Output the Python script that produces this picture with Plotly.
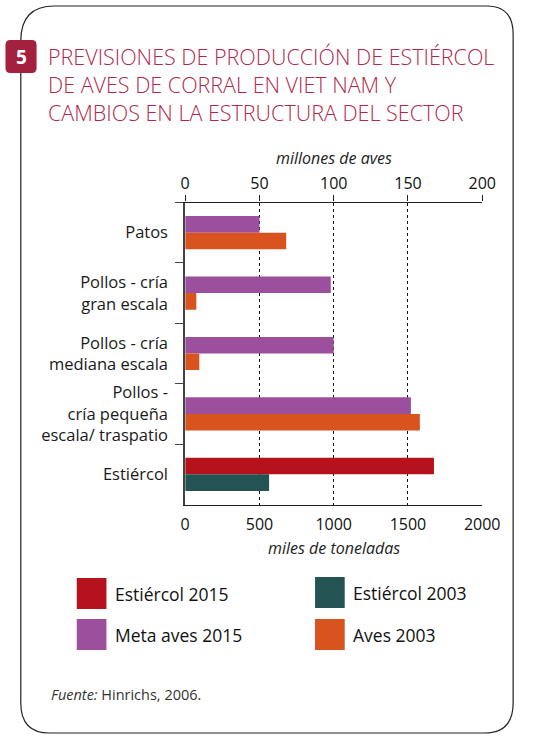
import plotly.graph_objects as go

W, H = 534, 736

categories = [
    "Patos",
    "Pollos - cría<br>gran escala",
    "Pollos - cría<br>mediana escala",
    "Pollos -<br>cría pequeña<br>escala/ traspatio",
    "Estiércol",
]
aves_categories = categories[:4]
meta_aves_2015 = [50, 98, 100, 152]      # millones de aves
aves_2003 = [68, 7.5, 9.5, 158]          # millones de aves
estiercol_categories = categories[4:]
estiercol_2015 = [1675]                  # miles de toneladas
estiercol_2003 = [565]                   # miles de toneladas

top_ticks = [0, 50, 100, 150, 200]
bottom_ticks = [0, 500, 1000, 1500, 2000]

C_RED = "#b5121b"
C_GREEN = "#235453"
C_PURPLE = "#9b4f9c"
C_ORANGE = "#d9531f"
C_TITLE = "#b0284b"
C_BADGE = "#a3203f"
FONT = "Open Sans"


def px(x, y):
    return x / W, 1 - y / H


fig = go.Figure()
fig.add_trace(go.Bar(y=aves_categories, x=meta_aves_2015, orientation="h",
                     marker=dict(color=C_PURPLE, line=dict(width=0)),
                     xaxis="x2", yaxis="y", showlegend=False, name="Meta aves 2015"))
fig.add_trace(go.Bar(y=aves_categories, x=aves_2003, orientation="h",
                     marker=dict(color=C_ORANGE, line=dict(width=0)),
                     xaxis="x2", yaxis="y", showlegend=False, name="Aves 2003"))
fig.add_trace(go.Bar(y=estiercol_categories, x=estiercol_2015, orientation="h",
                     marker=dict(color=C_RED, line=dict(width=0)),
                     xaxis="x", yaxis="y", showlegend=False, name="Estiércol 2015"))
fig.add_trace(go.Bar(y=estiercol_categories, x=estiercol_2003, orientation="h",
                     marker=dict(color=C_GREEN, line=dict(width=0)),
                     xaxis="x", yaxis="y", showlegend=False, name="Estiércol 2003"))

x0, x1 = 188.3, 498.7
yt, yb = 202.5, 504.5

fig.update_layout(
    width=W, height=H, autosize=False,
    margin=dict(l=0, r=0, t=0, b=0),
    paper_bgcolor="white", plot_bgcolor="white",
    font=dict(family=FONT, size=16, color="#1a1a1a"),
    barmode="group", bargap=0.45, bargroupgap=0,
    xaxis=dict(domain=[x0 / W, x1 / W], range=[0, 2000], tickvals=bottom_ticks,
               showline=True, linecolor="#222", linewidth=1.3,
               showgrid=True, gridcolor="#111", gridwidth=1, griddash="3px,3px",
               zeroline=False, ticks="", tickfont=dict(size=16, color="#111"),
               ticklabelstandoff=5, anchor="y", side="bottom", fixedrange=True),
    xaxis2=dict(range=[0, 200], tickvals=top_ticks, overlaying="x", side="top",
                anchor="y", showline=True, linecolor="#222", linewidth=1.3,
                showgrid=False, zeroline=False, ticks="outside", ticklen=6,
                tickcolor="#222", tickwidth=1, tickfont=dict(size=16, color="#111")),
    yaxis=dict(domain=[1 - yb / H, 1 - yt / H], categoryorder="array",
               categoryarray=categories, autorange="reversed",
               showline=True, linecolor="#444", linewidth=1.8,
               ticks="outside", tickson="boundaries", ticklen=8, tickcolor="#444",
               tickwidth=1.3, showgrid=False, zeroline=False,
               tickfont=dict(size=16.5, color="#1a1a1a"), ticklabelstandoff=12),
)

shapes = []
annotations = []

# frame with rounded corners (quadratic curves)
L, R, T, B = 16.5, 531, 6, 733
rtl, rtr, rbl, rbr = 35, 28, 30, 30
pts = [
    ("M", (L + rtl, T)), ("L", (R - rtr, T)), ("Q", (R, T), (R, T + rtr)),
    ("L", (R, B - rbr)), ("Q", (R, B), (R - rbr, B)), ("L", (L + rbl, B)),
    ("Q", (L, B), (L, B - rbl)), ("L", (L, T + rtl)), ("Q", (L, T), (L + rtl, T)),
]
path = ""
for item in pts:
    coords = " ".join("%.5f,%.5f" % px(*p) for p in item[1:])
    path += item[0] + " " + coords + " "
shapes.append(dict(type="path", path=path + "Z", xref="paper", yref="paper",
                   line=dict(color="#222", width=1.2), fillcolor="rgba(0,0,0,0)",
                   layer="below"))

# badge
bx0, by0, bx1, by1, br = 0.5, 40, 33, 73, 5
bpts = [
    ("M", (bx0 + br, by0)), ("L", (bx1 - br, by0)), ("Q", (bx1, by0), (bx1, by0 + br)),
    ("L", (bx1, by1 - br)), ("Q", (bx1, by1), (bx1 - br, by1)), ("L", (bx0 + br, by1)),
    ("Q", (bx0, by1), (bx0, by1 - br)), ("L", (bx0, by0 + br)), ("Q", (bx0, by0), (bx0 + br, by0)),
]
bpath = ""
for item in bpts:
    coords = " ".join("%.5f,%.5f" % px(*p) for p in item[1:])
    bpath += item[0] + " " + coords + " "
shapes.append(dict(type="path", path=bpath + "Z", xref="paper", yref="paper",
                   line=dict(width=0), fillcolor=C_BADGE, layer="above"))

# legend squares
legend_items = [
    ("Estiércol 2015", C_RED, 75, 578),
    ("Meta aves 2015", C_PURPLE, 75, 619),
    ("Estiércol 2003", C_GREEN, 324, 577),
    ("Aves 2003", C_ORANGE, 324, 619),
]
for label, color, lx, ly in legend_items:
    ax0, ay0 = px(lx, ly)
    ax1, ay1 = px(lx + 31, ly + 31)
    shapes.append(dict(type="rect", xref="paper", yref="paper", x0=ax0, x1=ax1,
                       y0=ay1, y1=ay0, line=dict(width=0), fillcolor=color))
    tx, ty = px(lx + 38, ly + 16)
    annotations.append(dict(text=label, x=tx, y=ty, xref="paper", yref="paper",
                            xanchor="left", yanchor="middle", showarrow=False,
                            font=dict(family=FONT, size=17.5, color="#111")))

# badge number
bxc, byc = px(16.8, 57)
annotations.append(dict(text="<b>5</b>", x=bxc, y=byc, xref="paper", yref="paper",
                        xanchor="center", yanchor="middle", showarrow=False,
                        font=dict(family=FONT, size=19, color="white")))

# title
tx, ty = px(43, 40)
annotations.append(dict(
    text="PREVISIONES DE PRODUCCIÓN DE ESTIÉRCOL<br>DE AVES DE CORRAL EN VIET NAM Y<br>CAMBIOS EN LA ESTRUCTURA DEL SECTOR",
    x=tx, y=ty, xref="paper", yref="paper", xanchor="left", yanchor="top",
    align="left", showarrow=False,
    font=dict(family=FONT, size=21.5, color=C_TITLE, weight=300)))

# axis titles
ax, ay = px((x0 + x1) / 2, 158)
annotations.append(dict(text="<i>millones de aves</i>", x=ax, y=ay, xref="paper", yref="paper",
                        xanchor="center", yanchor="middle", showarrow=False,
                        font=dict(family=FONT, size=16, color="#222")))
ax, ay = px((x0 + x1) / 2, 548)
annotations.append(dict(text="<i>miles de toneladas</i>", x=ax, y=ay, xref="paper", yref="paper",
                        xanchor="center", yanchor="middle", showarrow=False,
                        font=dict(family=FONT, size=16, color="#222")))

# source
sx, sy = px(46, 694)
annotations.append(dict(text="<i>Fuente:</i> Hinrichs, 2006.", x=sx, y=sy, xref="paper", yref="paper",
                        xanchor="left", yanchor="middle", showarrow=False,
                        font=dict(family=FONT, size=14.5, color="#333")))

fig.update_layout(shapes=shapes, annotations=annotations)
fig.write_html(
    "out.html",
    config={"displayModeBar": False, "responsive": False},
    post_script="document.body.style.margin='0';document.body.style.overflow='hidden';",
)
